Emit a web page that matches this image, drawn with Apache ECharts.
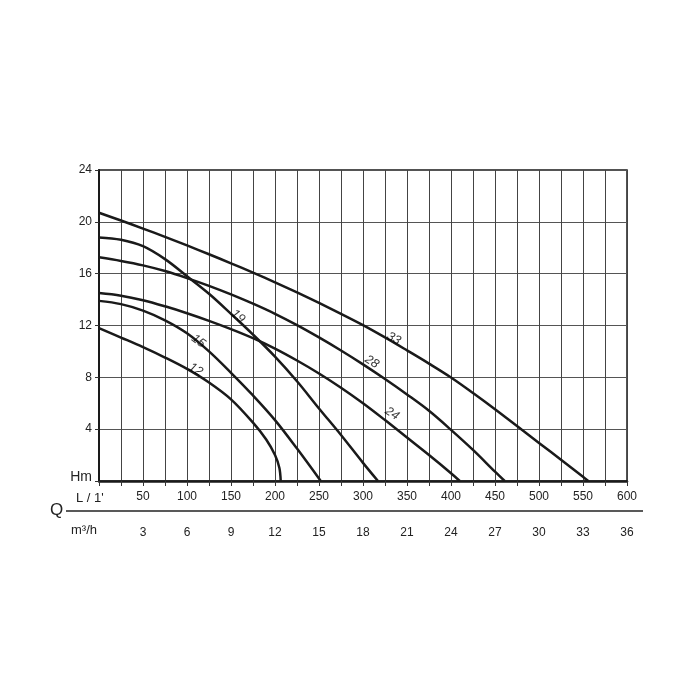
<!DOCTYPE html>
<html>
<head>
<meta charset="utf-8">
<script src="https://cdn.jsdelivr.net/npm/echarts@6/dist/echarts.min.js"></script>
<style>html,body{margin:0;padding:0;background:#fff}#c{width:700px;height:700px}</style>
</head>
<body>
<div id="c"></div>
<script>
// Flow Q in L/min, head H in m
const curve12 = [[0,11.8],[25,11.07],[50,10.33],[75,9.53],[100,8.65],[125,7.6],[150,6.3],[175,4.5],[190,3.2],[200,2.0],[205,1.0],[206.5,0]];
const curve15 = [[0,13.9],[25,13.65],[50,13.15],[75,12.4],[100,11.4],[125,10.0],[150,8.35],[175,6.6],[200,4.7],[225,2.5],[252,0]];
const curve19 = [[0,18.8],[25,18.62],[50,18.12],[75,17.12],[100,15.8],[125,14.45],[150,12.9],[175,11.3],[200,9.6],[225,7.7],[250,5.6],[275,3.55],[300,1.4],[317,0]];
const curve24 = [[0,14.5],[25,14.3],[50,13.95],[75,13.48],[100,12.95],[125,12.36],[150,11.72],[175,11.02],[200,10.22],[225,9.3],[250,8.3],[275,7.2],[300,6.0],[325,4.7],[350,3.35],[375,2.0],[400,0.6],[410,0]];
const curve28 = [[0,17.26],[25,16.98],[50,16.64],[75,16.2],[100,15.66],[125,15.06],[150,14.4],[175,13.68],[200,12.9],[225,12.03],[250,11.08],[275,10.07],[300,9.0],[325,7.87],[350,6.68],[375,5.42],[400,3.95],[425,2.4],[450,0.72],[461,0]];
const curve33 = [[0,20.7],[25,20.1],[50,19.48],[75,18.84],[100,18.18],[125,17.5],[150,16.8],[175,16.08],[200,15.33],[225,14.55],[250,13.74],[275,12.9],[300,12.03],[325,11.08],[350,10.08],[375,9.06],[400,7.99],[425,6.79],[450,5.54],[475,4.24],[500,2.94],[525,1.64],[550,0.32],[556,0]];
const curveNames = ['12','15','19','24','28','33'];
const curveData = [curve12, curve15, curve19, curve24, curve28, curve33];
// curve label anchors [name, Q, H]
const curveLabels = [['12',110,8.6],['15',113,10.8],['19',158,12.7],['24',333,5.2],['28',310,9.2],['33',335,11.0]];
const qTicksLmin = [50,100,150,200,250,300,350,400,450,500,550,600];
const qTicksM3h = [3,6,9,12,15,18,21,24,27,30,33,36];
const hTicks = [0,4,8,12,16,20,24];

const labelRotate = {'12':-31,'15':-37,'19':-41,'24':-33,'28':-33,'33':-29};
const txt = '#222';
const font = 'Liberation Sans, Arial, sans-serif';

const chart = echarts.init(document.getElementById('c'), null, {renderer:'canvas'});
const series = curveData.map((d, i) => ({
  type: 'line', name: curveNames[i], data: d, smooth: 0.35, symbol: 'none',
  lineStyle: {color: '#1a1a1a', width: 2.5}, z: 5, silent: true
}));
series.push({
  type: 'scatter', symbolSize: 1, z: 6, silent: true,
  itemStyle: {color: 'rgba(0,0,0,0)'},
  data: curveLabels.map(l => ({value: [l[1], l[2]], name: l[0],
    label: {show: true, formatter: l[0], rotate: labelRotate[l[0]], position: 'inside',
      color: '#000', fontSize: 12.5, fontStyle: 'italic', fontFamily: font}}))
});

chart.setOption({
  animation: false,
  backgroundColor: '#fff',
  grid: {left: 99, right: 73, top: 170, bottom: 219, show: true, borderColor: '#1a1a1a', borderWidth: 1.5},
  xAxis: [{
    type: 'value', min: 0, max: 600, interval: 25,
    axisLine: {show: true, onZero: false, lineStyle: {color: '#1a1a1a', width: 2.5}},
    axisTick: {show: true, length: 5, lineStyle: {color: '#333', width: 1}},
    splitLine: {show: true, lineStyle: {color: '#444', width: 1}},
    axisLabel: {color: txt, fontSize: 12, fontFamily: font, margin: 10,
      formatter: v => qTicksLmin.includes(v) ? String(v) : ''}
  }, {
    type: 'value', min: 0, max: 36, interval: 3, position: 'bottom', offset: 42,
    axisLine: {show: false}, axisTick: {show: false}, splitLine: {show: false},
    axisLabel: {color: txt, fontSize: 12, fontFamily: font, margin: 4,
      formatter: v => qTicksM3h.includes(v) ? (v === 33 ? '{r|33}' : String(v)) : '',
      rich: {r: {fontSize: 12, fontFamily: font, color: txt, padding: [0,0,6,0]}}}
  }],
  yAxis: {
    type: 'value', min: 0, max: 24, interval: 4,
    axisLine: {show: true, lineStyle: {color: '#1a1a1a', width: 2}},
    axisTick: {show: true, length: 4, lineStyle: {color: '#333'}},
    splitLine: {show: true, lineStyle: {color: '#555', width: 1}},
    axisLabel: {color: txt, fontSize: 12, fontFamily: font, margin: 7,
      formatter: v => v === 0 ? '{h|Hm}' : (hTicks.includes(v) ? String(v) : ''),
      rich: {h: {fontSize: 14, fontFamily: font, color: txt, padding: [0,0,8,0]}}}
  },
  graphic: [
    {type: 'line', shape: {x1: 66, y1: 511, x2: 643, y2: 511}, style: {stroke: '#222', lineWidth: 1.5}},
    {type: 'text', x: 50, y: 502, style: {text: 'Q', fill: txt, fontSize: 17, fontFamily: font}},
    {type: 'text', x: 76, y: 492, style: {text: "L / 1'", fill: txt, fontSize: 13, fontFamily: font}},
    {type: 'text', x: 71, y: 524, style: {text: 'm³/h', fill: txt, fontSize: 13, fontFamily: font}}
  ],
  series: series
});
</script>
</body>
</html>
